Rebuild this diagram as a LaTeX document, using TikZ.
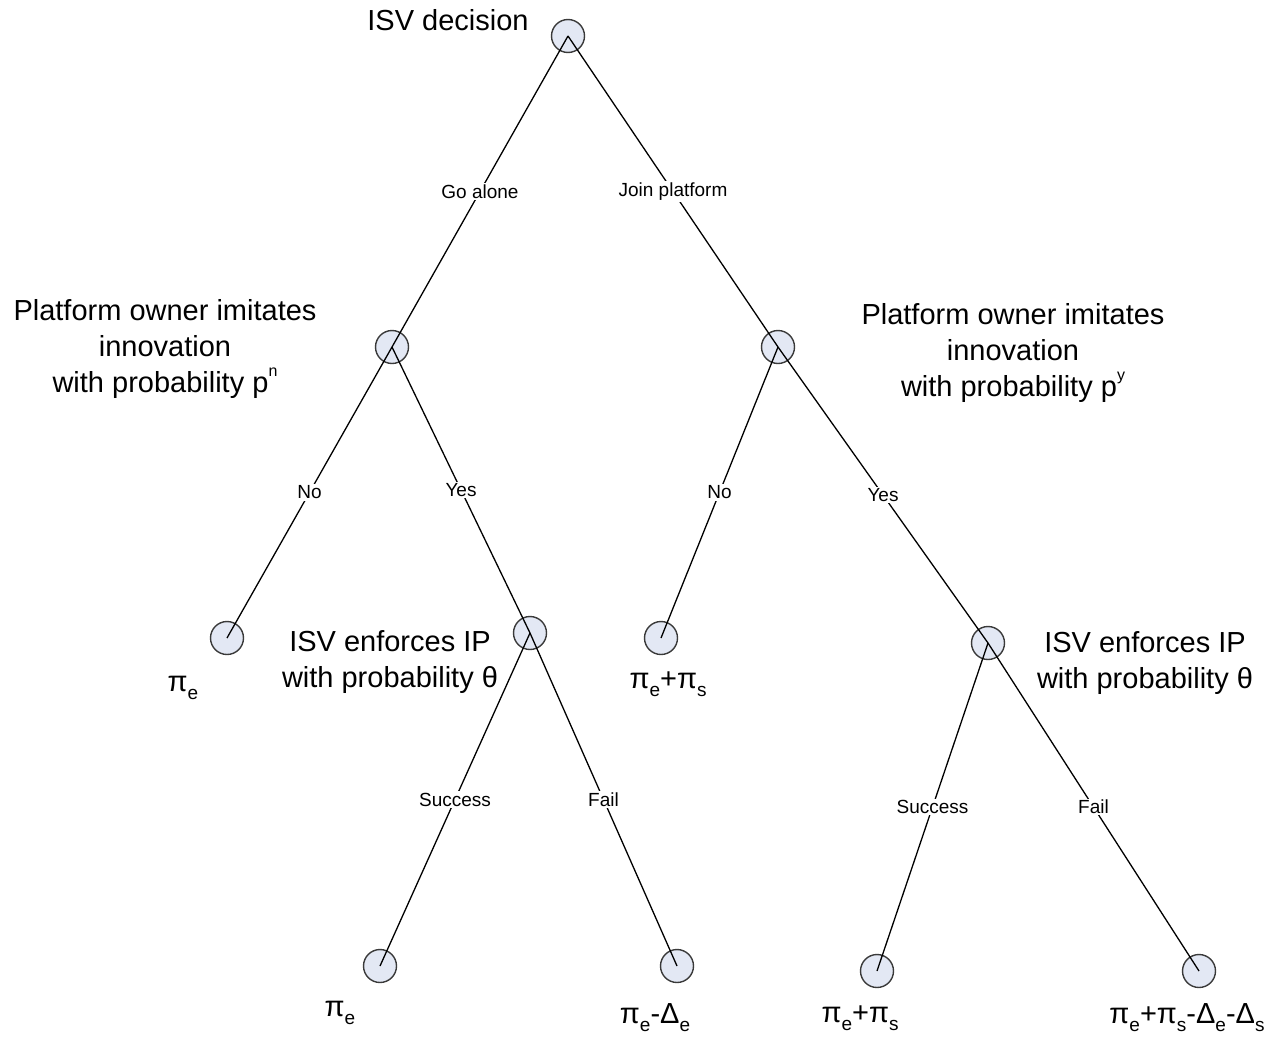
\documentclass[tikz,border=0pt]{standalone}
\usepackage{fontspec}
\setmainfont{Liberation Sans}
\definecolor{nodefill}{HTML}{E3E8F4}
\definecolor{nodeline}{HTML}{3A3A3A}
\newcommand{\lowsub}[1]{\raisebox{-0.28em}{\fontsize{19}{20}\selectfont #1}}
\newcommand{\hisup}[1]{\raisebox{0.55em}{\fontsize{16}{18}\selectfont #1}}
\begin{document}
\begin{tikzpicture}[x=1pt,y=-1pt,
  dnode/.style={circle,draw=nodeline,fill=nodefill,line width=1.4pt,minimum size=33pt,inner sep=0pt},
  edge/.style={line width=1.3pt,draw=black},
  elab/.style={fill=white,font=\fontsize{19}{22}\selectfont,inner sep=1.5pt},
  big/.style={font=\fontsize{29}{36}\selectfont,align=center},
  pay/.style={font=\fontsize{29}{32}\selectfont}]
\useasboundingbox (0,0) rectangle (1273,1036);
% decision / chance nodes
\node[dnode] (root) at (568,36) {};
\node[dnode] (L1) at (392,347) {};
\node[dnode] (R1) at (778,347) {};
\node[dnode] (LL) at (227,638) {};
\node[dnode] (LR) at (530,633) {};
\node[dnode] (RL) at (661,638) {};
\node[dnode] (RR) at (988,643) {};
\node[dnode] (LRL) at (380,966) {};
\node[dnode] (LRR) at (677,966) {};
\node[dnode] (RRL) at (877,971) {};
\node[dnode] (RRR) at (1199,971) {};
% edges
\draw[edge] (root.center) -- node[elab] {Go alone} (L1.center);
\draw[edge] (root.center) -- node[elab] {Join platform} (R1.center);
\draw[edge] (L1.center) -- node[elab] {No} (LL.center);
\draw[edge] (L1.center) -- node[elab] {Yes} (LR.center);
\draw[edge] (R1.center) -- node[elab] {No} (RL.center);
\draw[edge] (R1.center) -- node[elab] {Yes} (RR.center);
\draw[edge] (LR.center) -- node[elab] {Success} (LRL.center);
\draw[edge] (LR.center) -- node[elab] {Fail} (LRR.center);
\draw[edge] (RR.center) -- node[elab] {Success} (RRL.center);
\draw[edge] (RR.center) -- node[elab] {Fail} (RRR.center);
% texts
\node[big] (troot) at (448,20) {ISV decision};
\node[big] (tL1) at (165,349) {Platform owner imitates\\innovation\\with probability p\hisup{n}};
\node[big] (tR1) at (1013,353) {Platform owner imitates\\innovation\\with probability p\hisup{y}};
\node[big] (tLR) at (390,662) {ISV enforces IP\\with probability θ};
\node[big] (tRR) at (1145,663) {ISV enforces IP\\with probability θ};
% payoffs
\node[pay] (pLL) at (183,688) {π\lowsub{e}};
\node[pay] (pRL) at (668,684) {π\lowsub{e}+π\lowsub{s}};
\node[pay] (pLRL) at (340,1013) {π\lowsub{e}};
\node[pay] (pLRR) at (655,1018) {π\lowsub{e}-Δ\lowsub{e}};
\node[pay] (pRRL) at (860,1018) {π\lowsub{e}+π\lowsub{s}};
\node[pay] (pRRR) at (1187,1018) {π\lowsub{e}+π\lowsub{s}-Δ\lowsub{e}-Δ\lowsub{s}};
\end{tikzpicture}
\end{document}
